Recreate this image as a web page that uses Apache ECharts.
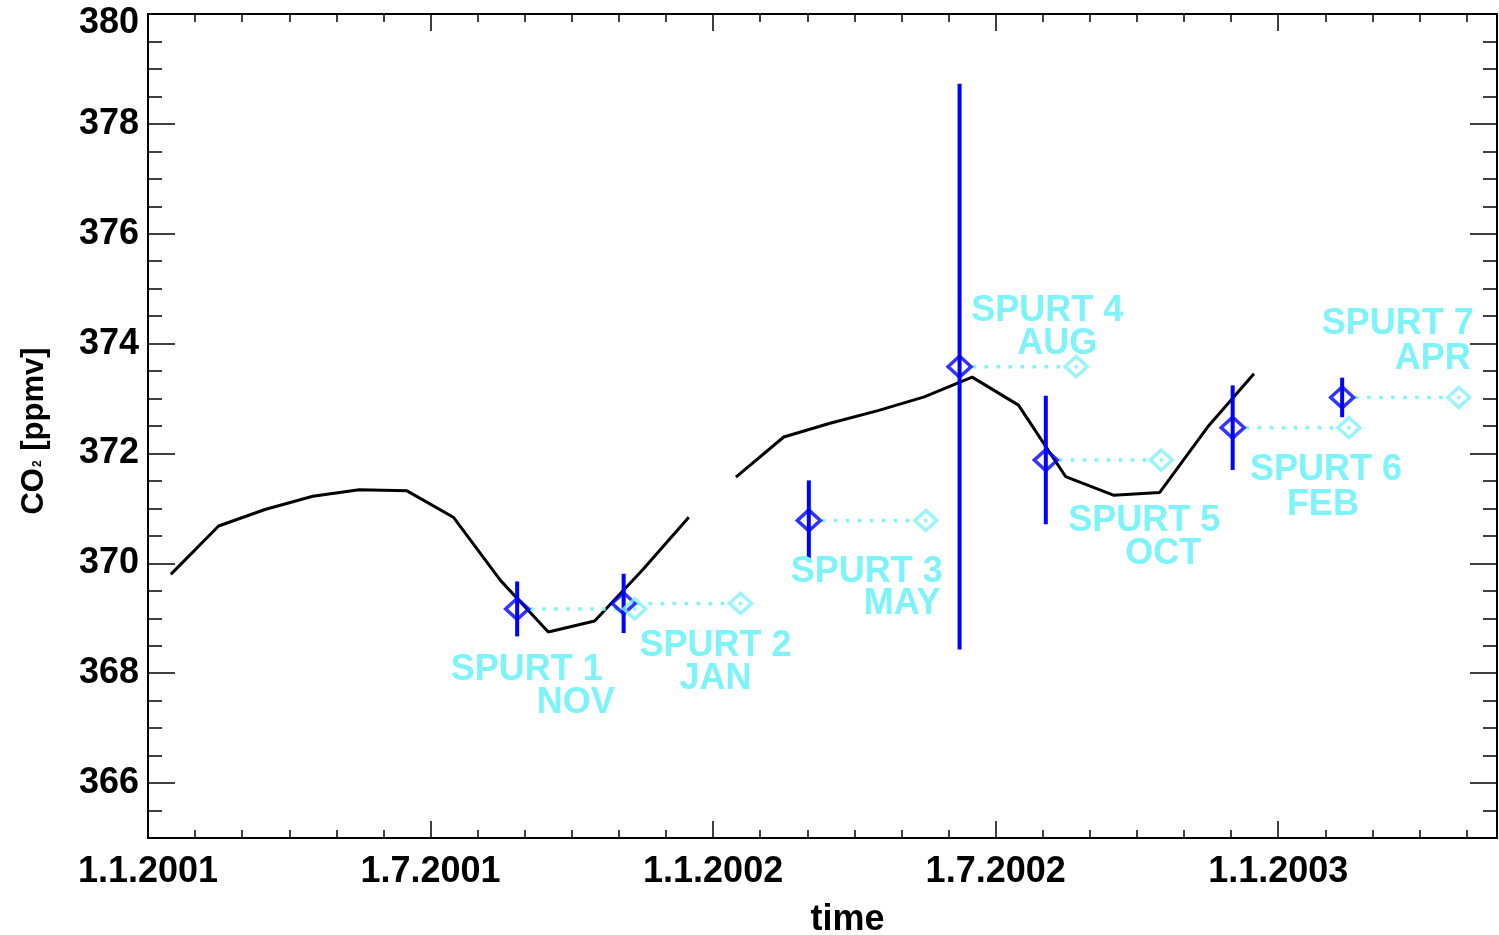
<!DOCTYPE html>
<html>
<head>
<meta charset="utf-8">
<script src="https://cdn.jsdelivr.net/npm/echarts@6/dist/echarts.min.js"></script>
<style>
  html, body { margin: 0; padding: 0; background: #fff; }
  #chart { width: 1499px; height: 935px; }
</style>
</head>
<body>
<div id="chart"></div>
<script>
// x axis is counted in months from 1.1.2001 (ticks are evenly spaced per month)
const xStart = '2001-01-01';
const xEnd = '2003-05-21';
const xTickDates = ['2001-01-01', '2001-07-01', '2002-01-01', '2002-07-01', '2003-01-01'];
const xTickLabels = ['1.1.2001', '1.7.2001', '1.1.2002', '1.7.2002', '1.1.2003'];
const yTickValues = [366, 368, 370, 372, 374, 376, 378, 380];

// black curve, monthly values, two pieces
const curveDates1 = ['2001-01-16', '2001-02-15', '2001-03-16', '2001-04-16', '2001-05-16', '2001-06-16',
  '2001-07-16', '2001-08-16', '2001-09-16', '2001-10-16', '2001-11-16', '2001-12-16'];
const curveValues1 = [369.80, 370.68, 370.98, 371.22, 371.34, 371.32, 370.84, 369.69, 368.75, 368.95, 369.88, 370.84];
const curveDates2 = ['2002-01-16', '2002-02-15', '2002-03-16', '2002-04-16', '2002-05-16', '2002-06-16',
  '2002-07-16', '2002-08-16', '2002-09-16', '2002-10-16', '2002-11-16', '2002-12-16'];
const curveValues2 = [371.57, 372.30, 372.55, 372.78, 373.03, 373.39, 372.88, 371.58, 371.24, 371.29, 372.48, 373.45];

// spurts: blue diamond with error bar, cyan diamond at the spurt month
const spurtNames = ['SPURT 1', 'SPURT 2', 'SPURT 3', 'SPURT 4', 'SPURT 5', 'SPURT 6', 'SPURT 7'];
const spurtMonths = ['NOV', 'JAN', 'MAY', 'AUG', 'OCT', 'FEB', 'APR'];
const spurtDates = ['2001-08-27', '2001-11-04', '2002-03-02', '2002-06-08', '2002-08-03', '2002-12-02', '2003-02-11'];
const spurtValues = [369.17, 369.27, 370.78, 373.58, 371.88, 372.47, 373.02];
const spurtErrors = [0.50, 0.54, 0.73, 5.15, 1.17, 0.77, 0.36];
const shiftedDates = ['2001-11-11', '2002-01-19', '2002-05-17', '2002-08-23', '2002-10-17', '2003-02-15', '2003-04-26'];

// text placement next to the cyan diamonds, in px
const nameOffsets = [[-184, 61], [-101, 43], [-135, 52], [-105, -56], [-93, 61], [-99, 42], [-137, -73]];
const monthOffsets = [[-98, 94], [-61, 76], [-62, 84], [-59, -23], [-36, 94], [-62, 77], [-64, -38]];

function monthPos(d) {
  const [y, m, day] = d.split('-').map(Number);
  const days = new Date(y, m, 0).getDate();
  return (y - 2001) * 12 + (m - 1) + (day - 1) / days;
}

const BLUE = '#0000ff';
const CYAN = '#7ff3fa';
const FONT = 'Liberation Sans';

const xMin = monthPos(xStart);
const xMax = monthPos(xEnd);
const xMajor = xTickDates.map(monthPos);

const chart = echarts.init(document.getElementById('chart'));

const lineStyle = { color: '#000', width: 2 };
const tickStyle = { color: '#000', width: 1.5 };
const labelFont = { fontFamily: FONT, fontWeight: 'bold', fontSize: 36, color: '#000' };

function xAxisDef(position, major, withLabels) {
  const ax = {
    type: 'value', position: position, min: xMin, max: xMax,
    axisLine: { show: !major, onZero: false, lineStyle: lineStyle },
    axisTick: { inside: true, length: major ? 17 : 8, lineStyle: tickStyle },
    axisLabel: { show: false },
    splitLine: { show: false }
  };
  if (major) {
    ax.axisTick.customValues = xMajor;
  } else {
    ax.interval = 1;
  }
  if (withLabels) {
    ax.axisLabel = Object.assign({
      show: true, customValues: xMajor, margin: 16,
      formatter: v => {
        const i = xMajor.findIndex(t => Math.abs(t - v) < 1e-6);
        return i >= 0 ? xTickLabels[i] : '';
      }
    }, labelFont);
    ax.name = 'time';
    ax.nameLocation = 'middle';
    ax.nameGap = 64;
    ax.nameTextStyle = Object.assign({ padding: [0, 0, 0, 50] }, labelFont);
  }
  return ax;
}

function yAxisDef(position, major, withLabels) {
  const ax = {
    type: 'value', position: position, min: 365, max: 380,
    axisLine: { show: !major, onZero: false, lineStyle: lineStyle },
    axisTick: { inside: true, length: major ? 27 : 14, lineStyle: tickStyle },
    axisLabel: { show: false },
    splitLine: { show: false }
  };
  if (major) {
    ax.axisTick.customValues = yTickValues;
  } else {
    ax.interval = 0.5;
  }
  if (withLabels) {
    const top = yTickValues[yTickValues.length - 1];
    ax.axisLabel = Object.assign({
      show: true, customValues: yTickValues, margin: 9,
      // the top label sits a little lower, as in the original
      formatter: v => Math.round(v) === top ? '{top|' + top + '}' : String(Math.round(v)),
      rich: { top: Object.assign({ padding: [19, 0, 0, 0] }, labelFont) }
    }, labelFont);
    ax.name = 'CO{sub|2} [ppmv]';
    ax.nameLocation = 'middle';
    ax.nameRotate = 90;
    ax.nameGap = 98;
    ax.nameTextStyle = {
      fontFamily: FONT, fontWeight: 'bold', fontSize: 31, color: '#000',
      padding: [0, 10, 0, 0],
      rich: { sub: { fontFamily: FONT, fontWeight: 'bold', fontSize: 12, verticalAlign: 'bottom', padding: [0, 1, 6, 1] } }
    };
  }
  return ax;
}

const curve1 = curveDates1.map((d, i) => [monthPos(d), curveValues1[i]]);
const curve2 = curveDates2.map((d, i) => [monthPos(d), curveValues2[i]]);
const spurtPts = spurtDates.map((d, i) => [monthPos(d), spurtValues[i], spurtErrors[i]]);
const shiftedPts = shiftedDates.map((d, i) => [monthPos(d), spurtValues[i]]);
const connectors = spurtDates.map((d, i) => [monthPos(d), spurtValues[i], monthPos(shiftedDates[i])]);
const textPts = shiftedPts.map((p, i) => [p[0], p[1], i]);

function textItem(api, labels, offsets) {
  const i = api.value(2);
  const p = api.coord([api.value(0), api.value(1)]);
  return {
    type: 'text',
    x: p[0] + offsets[i][0],
    y: p[1] + offsets[i][1],
    style: {
      text: labels[i], fill: CYAN,
      font: 'bold 36px "' + FONT + '"',
      align: 'left', verticalAlign: 'middle'
    }
  };
}

const option = {
  animation: false,
  backgroundColor: '#fff',
  grid: { left: 148, right: 2, top: 14, bottom: 97, containLabel: false, outerBoundsMode: 'none' },
  xAxis: [
    xAxisDef('bottom', false, false),
    xAxisDef('bottom', true, true),
    xAxisDef('top', false, false),
    xAxisDef('top', true, false)
  ],
  yAxis: [
    yAxisDef('left', false, false),
    yAxisDef('left', true, true),
    yAxisDef('right', false, false),
    yAxisDef('right', true, false)
  ],
  series: [
    {
      type: 'line', data: curve1, showSymbol: false, silent: true,
      lineStyle: { color: '#000', width: 3 }, z: 2
    },
    {
      type: 'line', data: curve2, showSymbol: false, silent: true,
      lineStyle: { color: '#000', width: 3 }, z: 2
    },
    {
      // dotted link from measured point to spurt month
      type: 'custom', data: connectors, silent: true, z: 3,
      encode: { x: 0, y: 1 },
      renderItem: (params, api) => {
        const a = api.coord([api.value(0), api.value(1)]);
        const b = api.coord([api.value(2), api.value(1)]);
        return {
          type: 'line',
          shape: { x1: a[0] + 13, y1: a[1], x2: b[0] - 11, y2: b[1] },
          style: { stroke: CYAN, lineWidth: 3.5, lineDash: [3.5, 8.5] }
        };
      }
    },
    {
      // error bars
      type: 'custom', data: spurtPts, silent: true, z: 4,
      encode: { x: 0, y: 1 },
      renderItem: (params, api) => {
        const x = api.value(0), y = api.value(1), e = api.value(2);
        const top = api.coord([x, y + e]);
        const bot = api.coord([x, y - e]);
        return {
          type: 'line',
          shape: { x1: top[0], y1: top[1], x2: bot[0], y2: bot[1] },
          style: { stroke: BLUE, lineWidth: 4 }
        };
      }
    },
    {
      type: 'scatter', data: spurtPts.map(p => [p[0], p[1]]), silent: true, z: 5,
      symbol: 'diamond', symbolSize: [23, 21],
      itemStyle: { color: 'rgba(0,0,0,0)', borderColor: BLUE, borderWidth: 3.5 }
    },
    {
      type: 'scatter', data: shiftedPts, silent: true, z: 5,
      symbol: 'diamond', symbolSize: [22, 20],
      itemStyle: { color: 'rgba(0,0,0,0)', borderColor: CYAN, borderWidth: 3.5 }
    },
    {
      type: 'scatter', data: shiftedPts, silent: true, z: 5,
      symbol: 'circle', symbolSize: 4,
      itemStyle: { color: CYAN }
    },
    {
      type: 'custom', data: textPts, silent: true, z: 6,
      encode: { x: 0, y: 1 },
      renderItem: (params, api) => textItem(api, spurtNames, nameOffsets)
    },
    {
      type: 'custom', data: textPts, silent: true, z: 6,
      encode: { x: 0, y: 1 },
      renderItem: (params, api) => textItem(api, spurtMonths, monthOffsets)
    }
  ]
};

chart.setOption(option);
</script>
</body>
</html>
